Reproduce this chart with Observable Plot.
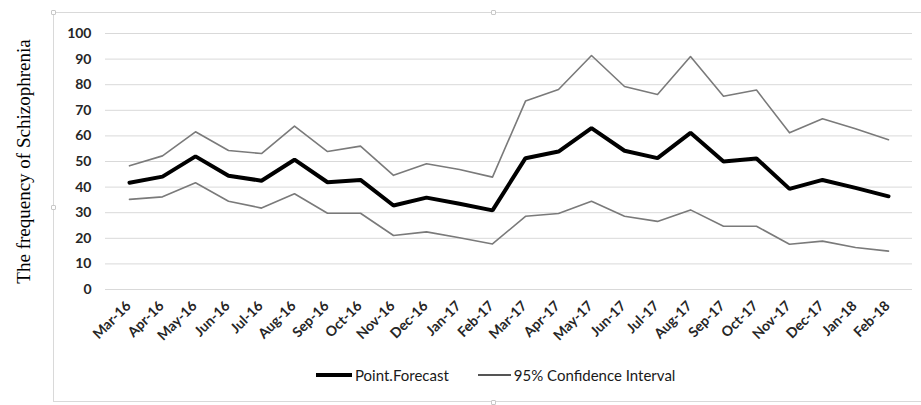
<!DOCTYPE html>
<html>
<head>
<meta charset="utf-8">
<script src="https://cdn.jsdelivr.net/npm/d3@7"></script>
<script src="https://cdn.jsdelivr.net/npm/@observablehq/plot@0.6"></script>
<style>
  html, body { margin: 0; padding: 0; background: #fff; }
  #wrap { position: relative; width: 921px; height: 405px; overflow: hidden; font-family: Lato, "Noto Sans", sans-serif; }
  #frame { position: absolute; left: 53px; top: 12px; width: 900px; height: 390px; border: 1px solid #d9d9d9; box-sizing: border-box; }
  .handle { position: absolute; width: 5px; height: 5px; border: 1px solid #c8c8c8; background: #fff; border-radius: 1px; box-sizing: border-box; }
  #chart { position: absolute; left: 0; top: 0; }
  #legend { position: absolute; left: 316px; top: 366px; display: flex; align-items: center; font-size: 15px; color: #1a1a1a; white-space: nowrap; }
  .sw { display: inline-block; width: 36px; margin-right: 3px; }
  .item { display: flex; align-items: center; }
</style>
</head>
<body>
<div id="wrap">
  <div id="frame"></div>
  <div class="handle" style="left:51px;top:10px"></div>
  <div class="handle" style="left:491px;top:10px"></div>
  <div class="handle" style="left:51px;top:205px"></div>
  <div class="handle" style="left:491px;top:400px"></div>
  <div id="chart"></div>
  <div id="legend">
    <div class="item"><span class="sw" style="height:4px;background:#000"></span><span>Point.Forecast</span></div>
    <div class="item" style="margin-left:29px"><span class="sw" style="height:1.5px;width:33px;background:#555"></span><span>95% Confidence Interval</span></div>
  </div>
</div>
<script>
const months = ["Mar-16","Apr-16","May-16","Jun-16","Jul-16","Aug-16","Sep-16","Oct-16","Nov-16","Dec-16","Jan-17","Feb-17",
                "Mar-17","Apr-17","May-17","Jun-17","Jul-17","Aug-17","Sep-17","Oct-17","Nov-17","Dec-17","Jan-18","Feb-18"];
const pointForecast = [41.7,44.1,52.0,44.4,42.5,50.7,41.9,42.8,32.8,35.9,33.5,30.9,51.3,53.9,63.0,54.2,51.3,61.2,50.0,51.2,39.3,42.8,39.7,36.4];
const upperCI = [48.3,52.2,61.6,54.3,53.1,63.8,53.9,56.0,44.6,49.1,46.9,43.9,73.6,78.1,91.4,79.3,76.2,91.0,75.5,77.9,61.2,66.7,62.8,58.5];
const lowerCI = [35.2,36.2,41.7,34.5,31.8,37.4,29.8,29.8,21.1,22.5,20.2,17.8,28.6,29.7,34.5,28.6,26.6,31.1,24.7,24.7,17.7,18.9,16.4,15.0];
const yTicks = [0,10,20,30,40,50,60,70,80,90,100];
const yTitle = "The frequency of Schizophrenia";

const pointRows = months.map((m, i) => ({month: m, value: pointForecast[i]}));
const ciRows = [
  ...months.map((m, i) => ({month: m, value: upperCI[i], bound: "upper"})),
  ...months.map((m, i) => ({month: m, value: lowerCI[i], bound: "lower"}))
];

const chart = Plot.plot({
  width: 921,
  height: 350,
  marginLeft: 105,
  marginRight: 9,
  marginTop: 33,
  marginBottom: 61,
  style: {fontFamily: "Lato, 'Noto Sans', sans-serif", background: "transparent", overflow: "visible"},
  x: {type: "point", domain: months, padding: 0.5},
  y: {domain: [0, 100]},
  marks: [
    Plot.ruleY(yTicks, {stroke: "#d9d9d9", strokeWidth: 1}),
    Plot.axisY({ticks: yTicks, tickSize: 0, tickPadding: 14, label: null, fontSize: 14, fontWeight: "bold", fill: "#262626"}),
    Plot.axisX({tickRotate: -45, tickSize: 0, tickPadding: 14, dx: -1, label: null, fontSize: 14, fontWeight: "bold", fill: "#262626"}),
    Plot.line(ciRows, {x: "month", y: "value", z: "bound", stroke: "#7a7a7a", strokeWidth: 1.6}),
    Plot.line(pointRows, {x: "month", y: "value", stroke: "#000", strokeWidth: 4, strokeLinejoin: "miter"}),
    Plot.text([yTitle], {frameAnchor: "left", textAnchor: "middle", rotate: -90, dx: -82, fontFamily: "'Liberation Serif', 'DejaVu Serif', serif", fontSize: 19, fill: "#000"})
  ]
});
document.getElementById("chart").appendChild(chart);
</script>
</body>
</html>
